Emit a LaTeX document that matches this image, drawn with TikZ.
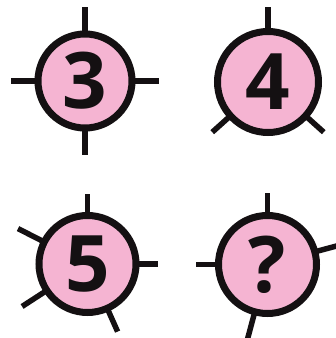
\documentclass[tikz,border=0pt]{standalone}
\usepackage{fontspec}
\setmainfont{Open Sans}
\definecolor{dialpink}{RGB}{245,180,210}
\definecolor{dialink}{RGB}{20,16,18}
\begin{document}
\begin{tikzpicture}[x=1pt,y=1pt,
  dial/.style={circle,draw=dialink,fill=dialpink,line width=7pt,minimum size=#1,inner sep=0pt,
    font=\fontsize{78}{78}\selectfont\bfseries,text=dialink},
  tick/.style={draw=dialink,line width=5.5pt}]
\useasboundingbox (0,0) rectangle (336,338);
\clip (0,0) rectangle (336,338);
\coordinate (c1) at (85,257);
\coordinate (c2) at (268,256);
\coordinate (c3) at (87.5,74);
\coordinate (c4) at (267.5,73.5);
\foreach \a in {0,90,180,270} \draw[tick] (c1) -- ++(\a:74);
\foreach \a in {90,222,318} \draw[tick] (c2) -- ++(\a:75);
\foreach \a/\r in {0/70,90/70,153/78,213/78,294/74} \draw[tick] (c3) -- ++(\a:\r);
\foreach \a/\r in {15/80,90/71,180/72,255/80} \draw[tick] (c4) -- ++(\a:\r);
\node[dial=94pt] (d1) at (c1) {3};
\node[dial=101pt] (d2) at (c2) {4};
\node[dial=97pt] (d3) at (c3) {5};
\node[dial=98pt] (d4) at (c4) {?};
\end{tikzpicture}
\end{document}
